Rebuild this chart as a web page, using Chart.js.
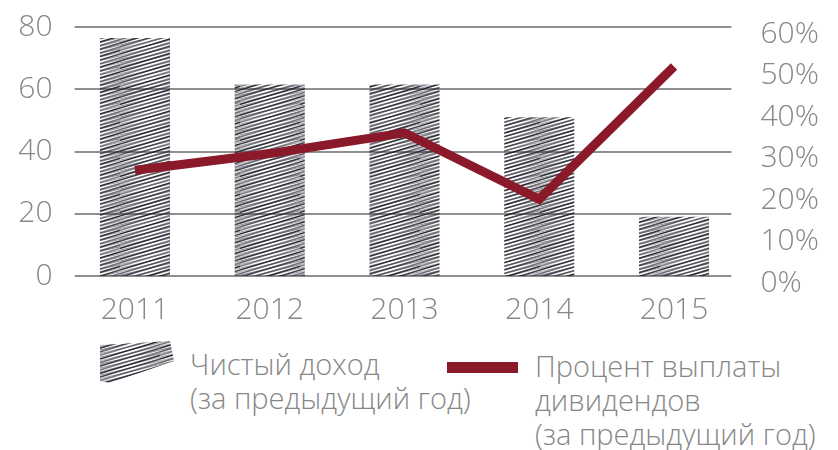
<!DOCTYPE html>
<html>
<head>
<meta charset="utf-8">
<script src="https://cdn.jsdelivr.net/npm/chart.js@4/dist/chart.umd.min.js"></script>
<style>
  html, body { margin: 0; padding: 0; background: #fff; }
  body { width: 838px; height: 450px; position: relative; overflow: hidden; font-family: 'Open Sans', sans-serif; }
  #wrap { position: absolute; left: 0; top: 0; width: 838px; height: 340px; }
  .lg { position: absolute; font-family: 'Open Sans', sans-serif; font-weight: 300; font-size: 29px; line-height: 34px; color: #878787; white-space: nowrap; }
  #sw1 { position: absolute; left: 100px; top: 341px; }
  #sw2 { position: absolute; left: 447px; top: 362px; width: 71px; height: 11px; background: #8a1a2a; }
</style>
</head>
<body>
<div id="wrap"><canvas id="c"></canvas></div>
<canvas id="sw1" width="74" height="42"></canvas>
<div class="lg" style="left:190px; top:347px;">Чистый доход<br>(за предыдущий год)</div>
<div id="sw2"></div>
<div class="lg" style="left:535px; top:349px;">Процент выплаты<br>дивидендов<br>(за предыдущий год)</div>
<script>
const categories = ['2011', '2012', '2013', '2014', '2015'];
const netIncome = [76.5, 61.5, 61.5, 51, 19];
const payoutPercent = [25.5, 29.5, 34.5, 18.5, 50.5];
const leftTicks = { min: 0, max: 80, step: 20 };
const rightTicks = { min: 0, max: 60, step: 10 };

const TEXT = '#878787';
const LINE = '#8a1a2a';
const GRID = '#8f8f8f';

function hatchCanvas() {
  const c = document.createElement('canvas');
  c.width = 60; c.height = 36;
  const g = c.getContext('2d');
  const alphas = [0.85, 0.6, 0.9, 0.7, 0.55, 0.95, 0.65, 0.8, 0.6, 0.9];
  g.lineWidth = 1.6;
  for (let k = -12; k <= 22; k++) {
    const b = k * 3.6;
    const a = alphas[((k % 10) + 10) % 10];
    g.strokeStyle = 'rgba(30,30,40,' + a + ')';
    g.beginPath();
    g.moveTo(-1, b + 0.3);
    g.lineTo(61, b - 18.3);
    g.stroke();
  }
  g.lineWidth = 1.1;
  for (let k = -12; k <= 22; k++) {
    const b = k * 3.6 + 1.8;
    const a = alphas[((k + 3) % 10 + 10) % 10] * 0.6;
    g.strokeStyle = 'rgba(40,40,55,' + a + ')';
    g.beginPath();
    g.moveTo(-1, b + 0.24);
    g.lineTo(61, b - 14.64);
    g.stroke();
  }
  return c;
}
const hc = hatchCanvas();

(function () {
  const s = document.getElementById('sw1').getContext('2d');
  s.fillStyle = s.createPattern(hc, 'repeat');
  s.beginPath();
  s.moveTo(0, 4); s.lineTo(70, 0); s.lineTo(74, 20); s.lineTo(10, 42); s.lineTo(0, 40);
  s.closePath();
  s.fill();
})();

const ctx = document.getElementById('c').getContext('2d');
const pattern = ctx.createPattern(hc, 'repeat');

const gridPlugin = {
  id: 'customGrid',
  beforeDatasetsDraw(chart) {
    const y = chart.scales.y;
    const a = chart.chartArea;
    const g = chart.ctx;
    g.save();
    g.strokeStyle = GRID;
    g.lineWidth = 2;
    y.ticks.forEach(t => {
      const py = Math.round(y.getPixelForValue(t.value));
      g.beginPath();
      g.moveTo(a.left + 7, py);
      g.lineTo(a.right - 10, py);
      g.stroke();
    });
    g.restore();
  }
};

const tickFont = { family: "'Open Sans', sans-serif", size: 30, weight: 300 };

new Chart(ctx, {
  type: 'bar',
  data: {
    labels: categories,
    datasets: [
      {
        type: 'line',
        label: 'Процент выплаты дивидендов',
        data: payoutPercent,
        yAxisID: 'y1',
        borderColor: LINE,
        backgroundColor: LINE,
        borderWidth: 9,
        pointRadius: 0,
        tension: 0,
        borderJoinStyle: 'miter',
        borderCapStyle: 'butt',
        fill: false,
        order: 0
      },
      {
        type: 'bar',
        label: 'Чистый доход',
        data: netIncome,
        yAxisID: 'y',
        backgroundColor: pattern,
        borderWidth: 0,
        categoryPercentage: 1,
        barPercentage: 0.52,
        order: 1
      }
    ]
  },
  options: {
    responsive: true,
    maintainAspectRatio: false,
    animation: false,
    layout: { padding: { top: 27, left: 0, right: 0, bottom: 0 } },
    plugins: { legend: { display: false }, tooltip: { enabled: false } },
    scales: {
      x: {
        grid: { display: false },
        border: { display: false },
        ticks: { font: tickFont, color: TEXT, padding: 8, maxRotation: 0 },
        afterFit(s) { s.height = 64; }
      },
      y: {
        position: 'left',
        min: leftTicks.min, max: leftTicks.max,
        grid: { display: false, drawTicks: false },
        border: { display: false },
        ticks: { stepSize: leftTicks.step, font: tickFont, color: TEXT, padding: 15 },
        afterFit(s) { s.width = 67.6; s.paddingTop = 0; s.paddingBottom = 0; }
      },
      y1: {
        position: 'right',
        min: rightTicks.min, max: rightTicks.max,
        grid: { display: false, drawTicks: false },
        border: { display: false },
        ticks: { stepSize: rightTicks.step, font: tickFont, color: TEXT, padding: 19, labelOffset: 7, callback: v => v + '%' },
        afterFit(s) { s.width = 96.6; s.paddingTop = 0; s.paddingBottom = 0; }
      }
    }
  },
  plugins: [gridPlugin]
});
</script>
</body>
</html>
